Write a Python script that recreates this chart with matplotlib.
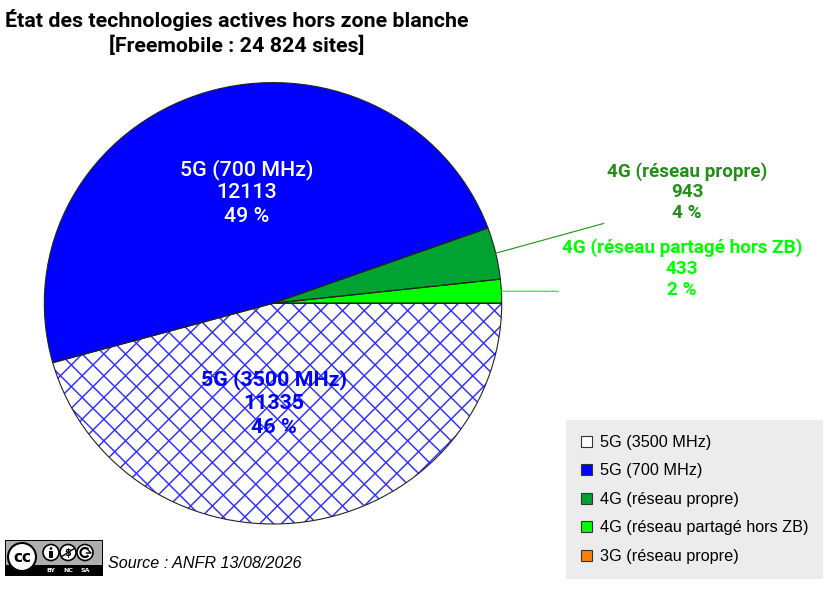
import numpy as np
import matplotlib.pyplot as plt
from matplotlib.patches import Patch, Rectangle, Circle, Wedge, Arc
from matplotlib.collections import LineCollection
from matplotlib.transforms import IdentityTransform

# data
labels = ['5G (3500 MHz)', '5G (700 MHz)', '4G (réseau propre)',
          '4G (réseau partagé hors ZB)', '3G (réseau propre)']
sites = [11335, 12113, 943, 433, 0]
colors = ['white', '#0000ff', '#00a331', '#00ff00', '#ff8000']
text_colors = ['#0000ff', 'white', '#238f1a', '#00ff00', '#ff8000']
source = 'Source : ANFR 13/08/2026'

total = sum(sites)

W, H = 831, 601
CX, CY = 273.0, 303.3      # pie centre in pixels (from top left)
RX, RY = 228.7, 220.7      # pie is a bit squashed

fig = plt.figure(figsize=(W / 100, H / 100), dpi=100)
ax = fig.add_axes([0, 0, 1, 1])

wedges, _ = ax.pie(sites, colors=colors, startangle=0, counterclock=False,
                   radius=1, wedgeprops=dict(edgecolor='none', linewidth=0))
ax.set_aspect('auto')
ax.set_xlim(-CX / RX, (W - CX) / RX)
ax.set_ylim(-(H - CY) / RY, CY / RY)
ax.axis('off')


def px(x, y):
    # pixel position -> data coords
    return (x - CX) / RX, (CY - y) / RY


def put(x, y, s, **kw):
    fig.text(x / W, 1 - y / H, s, **kw)


# cross hatch of the 3500 MHz slice (done by hand, mpl hatch is too dense)
step = 21.7
c0 = 331.7 - (H - 451.7)
d0 = 331.7 + (H - 451.7)
segs = []
for k in range(-60, 61):
    c = c0 + k * step
    segs.append([(c - 50, -50), (c + 900, 900)])
    d = d0 + k * step
    segs.append([(d + 50, -50), (d - 900, 900)])
lc = LineCollection(segs, colors='#2f2fff', linewidths=1.05,
                    transform=IdentityTransform(), zorder=2)
ax.add_collection(lc, autolim=False)
lc.set_clip_path(wedges[0])

# outlines on top
for w in wedges:
    ax.add_patch(Wedge(w.center, w.r, w.theta1, w.theta2, fill=False,
                       edgecolor='#222222', linewidth=0.8, zorder=3))

# slice labels
label_pos = [(274, 385, 24.2), (247, 175, 23.5), (687, 176.5, 20.8),
             (682, 252.7, 21.0)]
label_weight = ['bold', 500, 'bold', 'bold']
label_size = [15.4, 15.4, 13.6, 13.6]
for i, (x, y, dy) in enumerate(label_pos):
    pct = round(sites[i] / total * 100)
    for j, s in enumerate([labels[i], str(sites[i]), f'{pct} %']):
        put(x, y + j * dy, s, ha='center', va='baseline', family='Roboto',
            weight=label_weight[i], size=label_size[i], color=text_colors[i])

# leader lines for the two small slices
line_end = {2: (603.5, 223.5), 3: (558, 291.3)}
for i, (ex, ey) in line_end.items():
    w = wedges[i]
    mid = np.deg2rad((w.theta1 + w.theta2) / 2)
    sx, sy = np.cos(mid), np.sin(mid)
    exd, eyd = px(ex, ey)
    ax.plot([sx, exd], [sy, eyd], color=text_colors[i] if i == 3 else '#238f1a',
            lw=0.8, zorder=4)

# title
tot_txt = f'{total:,}'.replace(',', ' ')
put(237, 27, 'État des technologies actives hors zone blanche', ha='center',
    va='baseline', family='Roboto', weight='bold', size=15.4)
put(237, 52, f'[Freemobile : {tot_txt} sites]', ha='center',
    va='baseline', family='Roboto', weight='bold', size=15.4)

# legend
handles = [Patch(facecolor=c, edgecolor='#333333', linewidth=0.8) for c in colors]
leg = ax.legend(handles, labels, loc='upper left',
                bbox_to_anchor=(566 / W, 1 - 420 / H), bbox_transform=fig.transFigure,
                frameon=True, facecolor='#ececec', edgecolor='none', fancybox=False,
                framealpha=1, prop=dict(family='Liberation Sans', size=11.7),
                handlelength=0.7, handleheight=0.7, handletextpad=0.45,
                labelspacing=0.83, borderpad=0.92, borderaxespad=0)
leg.get_frame().set_linewidth(0)

# source
put(108, 568.3, source, family='Liberation Sans', style='italic', size=11.6,
    va='baseline', ha='left')

# little CC BY-NC-SA badge
cc = fig.add_axes([5 / W, 1 - 576 / H, 98 / W, 36 / H])
cc.set_xlim(0, 98)
cc.set_ylim(0, 36)
cc.axis('off')
cc.add_patch(Rectangle((0, 0), 98, 36, facecolor='black', edgecolor='black'))
cc.add_patch(Rectangle((1, 11), 96, 24, facecolor='#abb1aa', edgecolor='none'))
cc.add_patch(Circle((17, 19), 14, facecolor='white', edgecolor='black', lw=1.5))
cc.text(17, 18.5, 'cc', ha='center', va='center', size=11, weight='bold',
        family='DejaVu Sans')
for k, (x, tag) in enumerate(zip([46, 63, 80], ['BY', 'NC', 'SA'])):
    cc.add_patch(Circle((x, 23.5), 8, facecolor='white', edgecolor='black', lw=1.2))
    cc.text(x, 5, tag, ha='center', va='center', size=4.5, weight='bold',
            color='white', family='DejaVu Sans')
# person
cc.add_patch(Circle((46, 27.5), 1.4, facecolor='black', edgecolor='none'))
cc.add_patch(Rectangle((44.3, 18), 3.4, 7.5, facecolor='black', edgecolor='none'))
# no money
cc.text(63, 23.3, '$', ha='center', va='center', size=7, weight='bold',
        family='DejaVu Sans')
cc.plot([57.5, 68.5], [20, 27], color='black', lw=1)
# share alike
cc.add_patch(Arc((80, 23.5), 9, 9, theta1=40, theta2=320, color='black', lw=1.6))
cc.plot([83.6, 86, 81.5], [25.5, 23, 23], color='black', lw=1)

fig.savefig('out.png', dpi=100)
